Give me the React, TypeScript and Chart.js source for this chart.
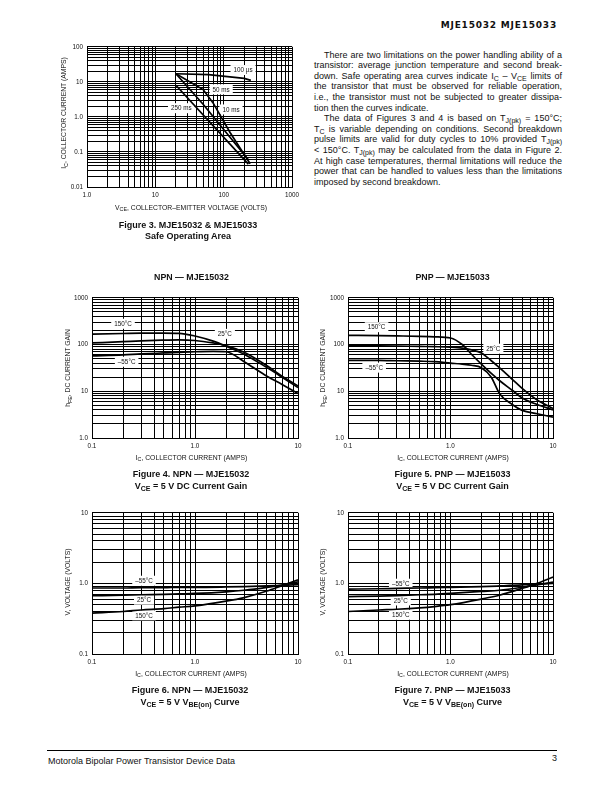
import React, { useEffect, useRef } from 'react';
import { Chart, registerables } from 'chart.js';

Chart.register(...registerables);

const FONT = '"Liberation Sans", Arial, Helvetica, sans-serif';

// ---------- Figure 3 : Safe Operating Area ----------
const F3_V_100US = [20, 60, 200, 250];
const F3_I_100US = [17, 16, 12.5, 11];
const F3_V_10MS = [20, 50, 70, 124, 244];
const F3_I_10MS = [17, 6, 2.5, 0.36, 0.046];
const F3_V_50MS = [20, 50, 230];
const F3_I_50MS = [17, 2.3, 0.06];
const F3_V_250MS = [20, 230];
const F3_I_250MS = [8, 0.045];
const F3_X_TICKS = [1, 10, 100, 1000];
const F3_X_TICK_LABELS = ['1.0', '10', '100', '1000'];
const F3_Y_TICKS = [0.01, 0.1, 1, 10, 100];
const F3_Y_TICK_LABELS = ['0.01', '0.1', '1.0', '10', '100'];
const F3_NOTE_TEXT = ['100 µs', '50 ms', '10 ms', '250 ms'];
const F3_NOTE_X = [192, 92, 128, 24];
const F3_NOTE_Y = [21.7, 6.1, 1.63, 1.77];

// ---------- Figure 4 : NPN DC current gain ----------
const F4_IC = [0.1, 0.2, 0.3, 0.5, 0.7, 1, 1.5, 2, 3, 5, 7, 10];
const F4_HFE_150 = [167, 172, 175, 176, 174, 152, 118, 92, 62, 32, 20, 12];
const F4_HFE_25 = [108, 115, 120, 124, 126, 122, 108, 95, 68, 35, 21, 13];
const F4_HFE_M55 = [57, 60, 63, 66, 68, 70, 71, 70, 43, 21, 14, 9];
const F4_NOTE_TEXT = ['150°C', '25°C', '–55°C'];
const F4_NOTE_X = [0.2, 1.95, 0.217];
const F4_NOTE_Y = [278, 169, 42.8];

// ---------- Figure 5 : PNP DC current gain ----------
const F5_IC = [0.1, 0.2, 0.3, 0.5, 0.7, 1, 1.3, 1.6, 2, 2.5, 3, 4, 5, 7, 10];
const F5_HFE_150 = [157, 155, 153, 150, 146, 138, 100, 62, 38, 24, 17, 10.5, 7.2, 5.2, 4.0];
const F5_HFE_25 = [95, 94, 93, 91, 90, 88, 84, 77, 66, 45, 32, 18, 11.5, 6.5, 4.3];
const F5_HFE_M55 = [46, 46, 45, 44, 43, 40, 38, 36, 32, 20, 9, 5.2, 3.9, 3.3, 2.8];
const F5_NOTE_TEXT = ['150°C', '25°C', '–55°C'];
const F5_NOTE_X = [0.19, 2.62, 0.18];
const F5_NOTE_Y = [235, 81.5, 32];

const GAIN_X_TICKS = [0.1, 1, 10];
const GAIN_X_TICK_LABELS = ['0.1', '1.0', '10'];
const GAIN_Y_TICKS = [1, 10, 100, 1000];
const GAIN_Y_TICK_LABELS = ['1.0', '10', '100', '1000'];

// ---------- Figure 6 : NPN VBE(on) ----------
const F6_IC = [0.1, 0.2, 0.3, 0.5, 0.7, 1, 2, 3, 5, 7, 10];
const F6_V_M55 = [0.86, 0.86, 0.87, 0.87, 0.88, 0.88, 0.89, 0.9, 0.92, 0.94, 0.96];
const F6_V_25 = [0.67, 0.68, 0.69, 0.7, 0.71, 0.72, 0.76, 0.8, 0.88, 0.95, 1.05];
const F6_V_150 = [0.38, 0.4, 0.42, 0.44, 0.46, 0.48, 0.56, 0.63, 0.78, 0.93, 1.12];
const F6_NOTE_TEXT = ['–55°C', '25°C', '150°C'];
const F6_NOTE_X = [0.32, 0.32, 0.32];
const F6_NOTE_Y = [1.09, 0.588, 0.353];

// ---------- Figure 7 : PNP VBE(on) ----------
const F7_IC = [0.1, 0.2, 0.3, 0.5, 0.7, 1, 2, 3, 5, 7, 10];
const F7_V_M55 = [0.83, 0.84, 0.85, 0.86, 0.87, 0.88, 0.9, 0.92, 0.95, 0.98, 1.0];
const F7_V_25 = [0.65, 0.66, 0.67, 0.69, 0.7, 0.72, 0.77, 0.8, 0.88, 0.95, 1.04];
const F7_V_150 = [0.4, 0.42, 0.43, 0.45, 0.47, 0.5, 0.6, 0.68, 0.85, 1.0, 1.23];
const F7_NOTE_TEXT = ['–55°C', '25°C', '150°C'];
const F7_NOTE_X = [0.327, 0.327, 0.327];
const F7_NOTE_Y = [0.99, 0.573, 0.36];

const VBE_Y_TICKS = [0.1, 1, 10];
const VBE_Y_TICK_LABELS = ['0.1', '1.0', '10'];

type Series = { xs: number[]; ys: number[] };
type Spec = {
  left: number; top: number; width: number; height: number;
  xMin: number; xMax: number; yMin: number; yMax: number;
  xTicks: number[]; xTickLabels: string[];
  yTicks: number[]; yTickLabels: string[];
  series: Series[];
  noteText: string[]; noteX: number[]; noteY: number[];
  smooth: boolean;
};

function logGrid(min: number, max: number): number[] {
  const out: number[] = [];
  let d = min;
  while (d < max * 0.999) {
    for (let m = 1; m <= 9; m++) out.push(Number((m * d).toPrecision(6)));
    d = Number((d * 10).toPrecision(6));
  }
  out.push(max);
  return out;
}

const SPEC3: Spec = {
  left: 87, top: 45, width: 205, height: 142,
  xMin: 1, xMax: 1000, yMin: 0.01, yMax: 100,
  xTicks: F3_X_TICKS, xTickLabels: F3_X_TICK_LABELS,
  yTicks: F3_Y_TICKS, yTickLabels: F3_Y_TICK_LABELS,
  series: [
    { xs: F3_V_100US, ys: F3_I_100US },
    { xs: F3_V_10MS, ys: F3_I_10MS },
    { xs: F3_V_50MS, ys: F3_I_50MS },
    { xs: F3_V_250MS, ys: F3_I_250MS },
  ],
  noteText: F3_NOTE_TEXT, noteX: F3_NOTE_X, noteY: F3_NOTE_Y,
  smooth: false,
};

const SPEC4: Spec = {
  left: 92, top: 296, width: 206, height: 142,
  xMin: 0.1, xMax: 10, yMin: 1, yMax: 1000,
  xTicks: GAIN_X_TICKS, xTickLabels: GAIN_X_TICK_LABELS,
  yTicks: GAIN_Y_TICKS, yTickLabels: GAIN_Y_TICK_LABELS,
  series: [
    { xs: F4_IC, ys: F4_HFE_150 },
    { xs: F4_IC, ys: F4_HFE_25 },
    { xs: F4_IC, ys: F4_HFE_M55 },
  ],
  noteText: F4_NOTE_TEXT, noteX: F4_NOTE_X, noteY: F4_NOTE_Y,
  smooth: true,
};

const SPEC5: Spec = {
  left: 348, top: 296, width: 205, height: 142,
  xMin: 0.1, xMax: 10, yMin: 1, yMax: 1000,
  xTicks: GAIN_X_TICKS, xTickLabels: GAIN_X_TICK_LABELS,
  yTicks: GAIN_Y_TICKS, yTickLabels: GAIN_Y_TICK_LABELS,
  series: [
    { xs: F5_IC, ys: F5_HFE_150 },
    { xs: F5_IC, ys: F5_HFE_25 },
    { xs: F5_IC, ys: F5_HFE_M55 },
  ],
  noteText: F5_NOTE_TEXT, noteX: F5_NOTE_X, noteY: F5_NOTE_Y,
  smooth: true,
};

const SPEC6: Spec = {
  left: 92, top: 511, width: 206, height: 143,
  xMin: 0.1, xMax: 10, yMin: 0.1, yMax: 10,
  xTicks: GAIN_X_TICKS, xTickLabels: GAIN_X_TICK_LABELS,
  yTicks: VBE_Y_TICKS, yTickLabels: VBE_Y_TICK_LABELS,
  series: [
    { xs: F6_IC, ys: F6_V_M55 },
    { xs: F6_IC, ys: F6_V_25 },
    { xs: F6_IC, ys: F6_V_150 },
  ],
  noteText: F6_NOTE_TEXT, noteX: F6_NOTE_X, noteY: F6_NOTE_Y,
  smooth: true,
};

const SPEC7: Spec = {
  left: 348, top: 511, width: 205, height: 143,
  xMin: 0.1, xMax: 10, yMin: 0.1, yMax: 10,
  xTicks: GAIN_X_TICKS, xTickLabels: GAIN_X_TICK_LABELS,
  yTicks: VBE_Y_TICKS, yTickLabels: VBE_Y_TICK_LABELS,
  series: [
    { xs: F7_IC, ys: F7_V_M55 },
    { xs: F7_IC, ys: F7_V_25 },
    { xs: F7_IC, ys: F7_V_150 },
  ],
  noteText: F7_NOTE_TEXT, noteX: F7_NOTE_X, noteY: F7_NOTE_Y,
  smooth: true,
};

const ML = 40, MT = 6, MR = 12, MB = 18;

function labelFor(vals: number[], labels: string[]) {
  return (v: any) => {
    const n = Number(v);
    const i = vals.findIndex((t) => Math.abs(t - n) / t < 1e-6);
    return i >= 0 ? labels[i] : '';
  };
}

function LogChart({ spec }: { spec: Spec }) {
  const ref = useRef<HTMLCanvasElement>(null);
  const cw = spec.width + ML + MR;
  const ch = spec.height + MT + MB;
  useEffect(() => {
    if (!ref.current) return;
    const notesPlugin = {
      id: 'notes',
      beforeDatasetsDraw(chart: any) {
        const { ctx, scales } = chart;
        ctx.save();
        ctx.font = `6.3px ${FONT}`;
        ctx.textAlign = 'center';
        ctx.textBaseline = 'middle';
        spec.noteText.forEach((t, i) => {
          const px = scales.x.getPixelForValue(spec.noteX[i]);
          const py = scales.y.getPixelForValue(spec.noteY[i]);
          const w = ctx.measureText(t).width + 6;
          ctx.fillStyle = '#fff';
          ctx.fillRect(px - w / 2, py - 5, w, 10);
          ctx.fillStyle = '#111';
          ctx.fillText(t, px, py + 0.5);
        });
        ctx.restore();
      },
    };
    const tickFont = { family: FONT, size: 6.3 };
    const chart = new Chart(ref.current, {
      type: 'line',
      data: {
        datasets: spec.series.map((s) => ({
          data: s.xs.map((x, i) => ({ x, y: s.ys[i] })),
          borderColor: '#000',
          borderWidth: 1.7,
          pointRadius: 0,
          fill: false,
          tension: spec.smooth ? 0.4 : 0,
          cubicInterpolationMode: spec.smooth ? 'monotone' : 'default',
        })),
      },
      options: {
        animation: false,
        responsive: false,
        events: [],
        layout: { padding: { left: 0, top: MT, right: MR, bottom: 0 } },
        plugins: { legend: { display: false }, tooltip: { enabled: false } },
        scales: {
          x: {
            type: 'logarithmic',
            min: spec.xMin,
            max: spec.xMax,
            afterBuildTicks: (s: any) => {
              s.ticks = logGrid(spec.xMin, spec.xMax).map((v) => ({ value: v }));
            },
            afterFit: (s: any) => {
              s.height = MB;
            },
            ticks: {
              autoSkip: false,
              maxRotation: 0,
              minRotation: 0,
              padding: 4,
              font: tickFont,
              color: '#111',
              callback: labelFor(spec.xTicks, spec.xTickLabels),
            },
            grid: { color: '#000', lineWidth: 1, drawTicks: false },
            border: { color: '#000', width: 1 },
          },
          y: {
            type: 'logarithmic',
            min: spec.yMin,
            max: spec.yMax,
            afterBuildTicks: (s: any) => {
              s.ticks = logGrid(spec.yMin, spec.yMax).map((v) => ({ value: v }));
            },
            afterFit: (s: any) => {
              s.width = ML;
            },
            ticks: {
              autoSkip: false,
              padding: 4,
              font: tickFont,
              color: '#111',
              callback: labelFor(spec.yTicks, spec.yTickLabels),
            },
            grid: { color: '#000', lineWidth: 1, drawTicks: false },
            border: { color: '#000', width: 1 },
          },
        },
      } as any,
      plugins: [notesPlugin],
    } as any);
    return () => chart.destroy();
  }, [spec]);
  return (
    <canvas
      ref={ref}
      width={cw}
      height={ch}
      style={{ position: 'absolute', left: spec.left - ML, top: spec.top - MT, width: cw, height: ch }}
    />
  );
}

const Sub = ({ children }: { children: any }) => (
  <span style={{ fontSize: '0.78em', position: 'relative', top: '0.3em' }}>{children}</span>
);

type TxtProps = {
  x: number; y: number; size: number; bold?: boolean; align?: 'left' | 'center' | 'right';
  w?: number; family?: string; ls?: number; children: any;
};
const Txt = ({ x, y, size, bold, align = 'left', w = 320, family = FONT, ls, children }: TxtProps) => {
  const h = Math.round(size * 1.4);
  let left = x;
  if (align === 'center') left = x - w / 2;
  else if (align === 'right') left = x - w;
  return (
    <div
      style={{
        position: 'absolute', left, top: y - h / 2, width: w, height: h, lineHeight: h + 'px',
        fontSize: size, fontWeight: bold ? 'bold' : 'normal', textAlign: align, whiteSpace: 'nowrap',
        fontFamily: family, color: '#111', letterSpacing: ls,
      }}
    >
      {children}
    </div>
  );
};

const VTxt = ({ x, y, size, children }: { x: number; y: number; size: number; children: any }) => {
  const w = 200;
  const h = Math.round(size * 1.4);
  return (
    <div
      style={{
        position: 'absolute', left: x - w / 2, top: y - h / 2, width: w, height: h, lineHeight: h + 'px',
        fontSize: size, textAlign: 'center', whiteSpace: 'nowrap', transform: 'rotate(-90deg)',
        fontFamily: FONT, color: '#111',
      }}
    >
      {children}
    </div>
  );
};

const PL = 314, PW = 248, PIND = 10, PSIZE = 9;
const PLine = ({ y, indent, justify, children }: { y: number; indent?: boolean; justify?: boolean; children: any }) => {
  const h = 11;
  const left = PL + (indent ? PIND : 0);
  const width = PW - (indent ? PIND : 0);
  return (
    <div
      style={{
        position: 'absolute', left, top: y - h / 2, width, height: h, lineHeight: h + 'px',
        fontSize: PSIZE, fontFamily: FONT, color: '#111',
        textAlign: justify ? 'justify' : 'left', textAlignLast: justify ? 'justify' : 'left',
        overflow: 'visible',
      } as any}
    >
      {children}
    </div>
  );
};

const AX = 6.8;
const CAP = 9;

export default function App() {
  return (
    <div style={{ position: 'absolute', left: 0, top: 0, width: 612, height: 792, background: '#fff', overflow: 'hidden', fontFamily: FONT }}>
      {/* header */}
      <Txt x={557} y={25.5} size={9} bold align="right" family='"DejaVu Sans", "Liberation Sans", sans-serif' ls={0.8}>
        MJE15032 MJE15033
      </Txt>

      {/* paragraph */}
      <PLine y={55} indent justify>There are two limitations on the power handling ability of a</PLine>
      <PLine y={65.6} justify>transistor: average junction temperature and second break-</PLine>
      <PLine y={76.2} justify>down. Safe operating area curves indicate I<Sub>C</Sub> – V<Sub>CE</Sub> limits of</PLine>
      <PLine y={86.8} justify>the transistor that must be observed for reliable operation,</PLine>
      <PLine y={97.4} justify>i.e., the transistor must not be subjected to greater dissipa-</PLine>
      <PLine y={108} >tion then the curves indicate.</PLine>
      <PLine y={118.6} indent justify>The data of Figures 3 and 4 is based on T<Sub>J(pk)</Sub> = 150°C;</PLine>
      <PLine y={129.2} justify>T<Sub>C</Sub> is variable depending on conditions. Second breakdown</PLine>
      <PLine y={139.8} justify>pulse limits are valid for duty cycles to 10% provided T<Sub>J(pk)</Sub></PLine>
      <PLine y={150.4} justify>&lt; 150°C. T<Sub>J(pk)</Sub> may be calculated from the data in Figure 2.</PLine>
      <PLine y={161} justify>At high case temperatures, thermal limitations will reduce the</PLine>
      <PLine y={171.6} justify>power that can be handled to values less than the limitations</PLine>
      <PLine y={182.2}>imposed by second breakdown.</PLine>

      {/* Figure 3 */}
      <LogChart spec={SPEC3} />
      <VTxt x={63.5} y={112.5} size={AX}>I<Sub>C</Sub>, COLLECTOR CURRENT (AMPS)</VTxt>
      <Txt x={191} y={207.7} size={AX} align="center">V<Sub>CE</Sub>, COLLECTOR–EMITTER VOLTAGE (VOLTS)</Txt>
      <Txt x={188} y={225} size={CAP} bold align="center">Figure 3. MJE15032 &amp; MJE15033</Txt>
      <Txt x={188} y={236.5} size={CAP} bold align="center">Safe Operating Area</Txt>

      {/* Figure 4 */}
      <Txt x={191.5} y={277.3} size={8.8} bold align="center">NPN — MJE15032</Txt>
      <LogChart spec={SPEC4} />
      <VTxt x={68} y={368} size={AX}>h<Sub>FE</Sub>, DC CURRENT GAIN</VTxt>
      <Txt x={191.5} y={457.7} size={AX} align="center">I<Sub>C</Sub>, COLLECTOR CURRENT (AMPS)</Txt>
      <Txt x={191} y={474.3} size={CAP} bold align="center">Figure 4. NPN — MJE15032</Txt>
      <Txt x={191} y={486} size={CAP} bold align="center">V<Sub>CE</Sub> = 5 V DC Current Gain</Txt>

      {/* Figure 5 */}
      <Txt x={452.5} y={277.3} size={8.8} bold align="center">PNP — MJE15033</Txt>
      <LogChart spec={SPEC5} />
      <VTxt x={323} y={368} size={AX}>h<Sub>FE</Sub>, DC CURRENT GAIN</VTxt>
      <Txt x={453} y={457.7} size={AX} align="center">I<Sub>C</Sub>, COLLECTOR CURRENT (AMPS)</Txt>
      <Txt x={452.5} y={474.3} size={CAP} bold align="center">Figure 5. PNP — MJE15033</Txt>
      <Txt x={452.5} y={486} size={CAP} bold align="center">V<Sub>CE</Sub> = 5 V DC Current Gain</Txt>

      {/* Figure 6 */}
      <LogChart spec={SPEC6} />
      <VTxt x={68} y={582} size={AX}>V, VOLTAGE (VOLTS)</VTxt>
      <Txt x={191} y={673.7} size={AX} align="center">I<Sub>C</Sub>, COLLECTOR CURRENT (AMPS)</Txt>
      <Txt x={190} y={690.7} size={CAP} bold align="center">Figure 6. NPN — MJE15032</Txt>
      <Txt x={190} y={702.2} size={CAP} bold align="center">V<Sub>CE</Sub> = 5 V V<Sub>BE(on)</Sub> Curve</Txt>

      {/* Figure 7 */}
      <LogChart spec={SPEC7} />
      <VTxt x={323} y={582} size={AX}>V, VOLTAGE (VOLTS)</VTxt>
      <Txt x={453} y={673.7} size={AX} align="center">I<Sub>C</Sub>, COLLECTOR CURRENT (AMPS)</Txt>
      <Txt x={452.5} y={690.7} size={CAP} bold align="center">Figure 7. PNP — MJE15033</Txt>
      <Txt x={452.5} y={702.2} size={CAP} bold align="center">V<Sub>CE</Sub> = 5 V V<Sub>BE(on)</Sub> Curve</Txt>

      {/* footer */}
      <div style={{ position: 'absolute', left: 47, top: 750, width: 510, height: 1, background: '#000' }} />
      <Txt x={48} y={761} size={9}>Motorola Bipolar Power Transistor Device Data</Txt>
      <Txt x={557} y={758} size={9} align="right">3</Txt>
    </div>
  );
}
